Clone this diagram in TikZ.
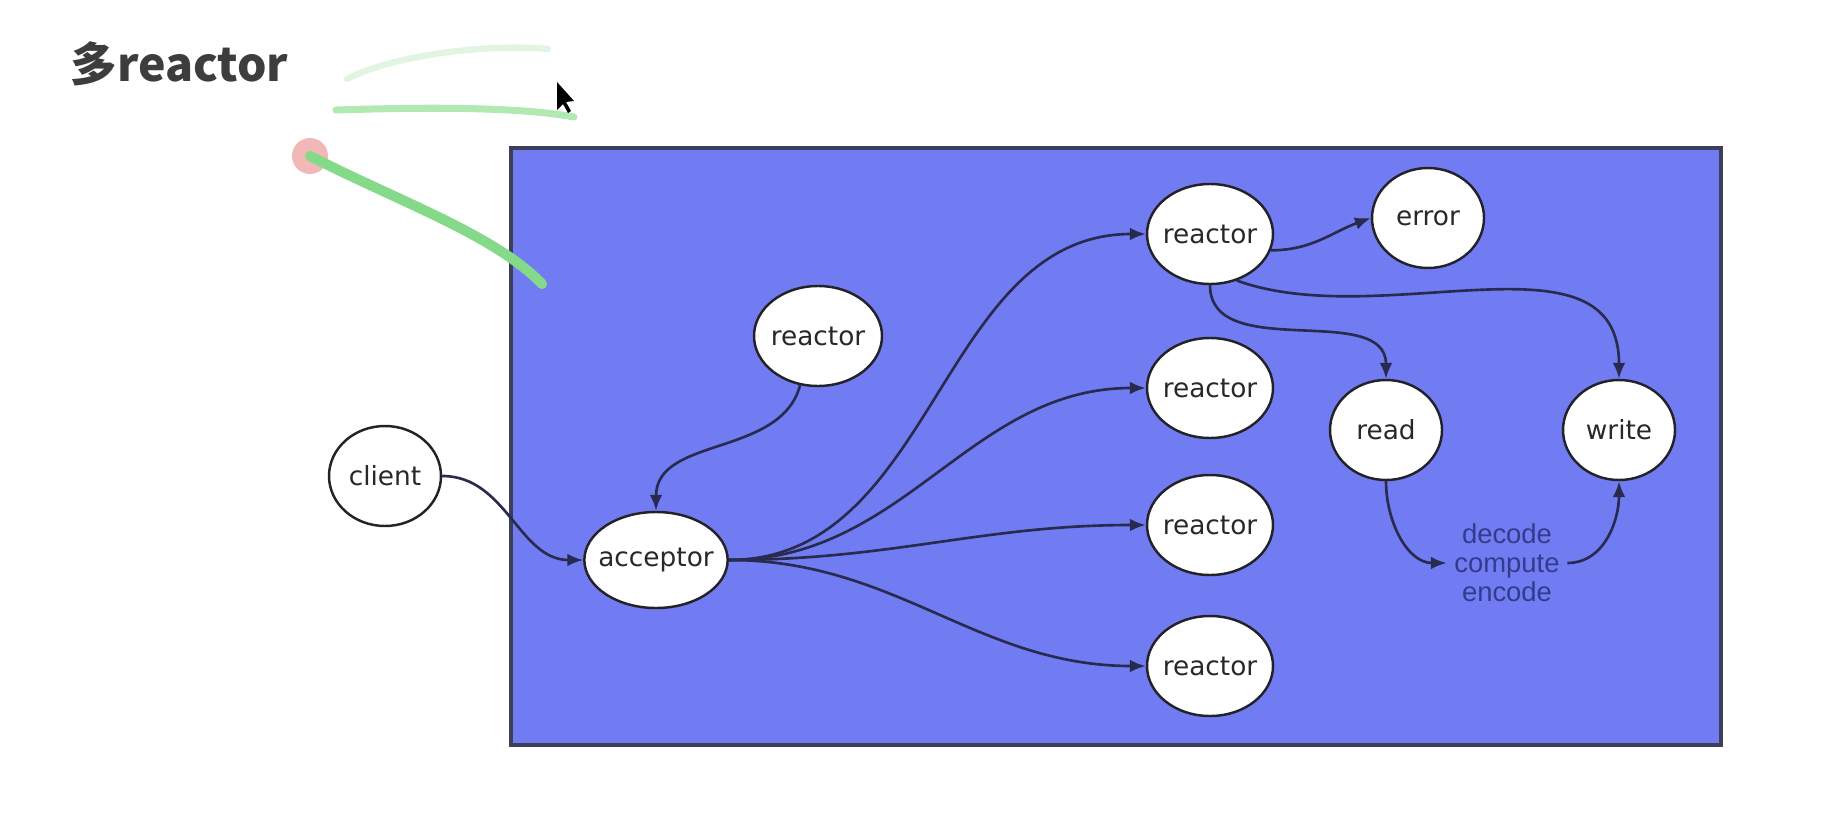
\documentclass[tikz,border=0pt]{standalone}
\usepackage{fontspec}
\usepackage{tikz}
\usetikzlibrary{shapes.geometric,arrows.meta}
\newfontfamily\cjkfont{Noto Sans CJK SC}
\newfontfamily\nodefont{DejaVu Sans}
\newfontfamily\notefont{Liberation Sans}
\definecolor{panel}{RGB}{114,124,242}
\definecolor{panelline}{RGB}{60,62,90}
\definecolor{edgecol}{RGB}{40,42,78}
\definecolor{nodeline}{RGB}{34,34,40}
\definecolor{nodetext}{RGB}{40,40,40}
\definecolor{notetext}{RGB}{50,60,140}
\definecolor{titlegray}{RGB}{61,61,61}
\definecolor{penfaint}{RGB}{226,245,226}
\definecolor{penlight}{RGB}{178,232,178}
\definecolor{pengreen}{RGB}{132,218,136}
\definecolor{pendot}{RGB}{242,184,184}

\begin{document}
\begin{tikzpicture}
	\tikzstyle{vertex}=[ellipse,draw=nodeline,fill=white,line width=0.7pt,inner ysep=0pt,inner xsep=-1pt,minimum width=1.26cm,minimum height=1cm,font=\nodefont\fontsize{7.5}{9}\selectfont,text=nodetext]
	\tikzstyle{flow}=[-{Latex[length=4.5pt,width=3.6pt]},draw=edgecol,line width=0.75pt]
	\useasboundingbox (0,0) rectangle (18.28,-8.20);
	% title and pen marks
	\node[anchor=west,inner sep=0pt,text=titlegray,font=\cjkfont\bfseries\fontsize{13.2}{15}\selectfont](title) at (0.70,-0.64) {多reactor};
	\draw[penfaint,line width=1.8pt,line cap=round] (3.47,-0.79) .. controls (4.0,-0.52) and (5.0,-0.44) .. (5.48,-0.49);
	\draw[penlight,line width=2pt,line cap=round] (3.36,-1.10) .. controls (4.3,-1.07) and (5.2,-1.07) .. (5.74,-1.17);
	\fill[black] (5.57,-0.82) -- (5.57,-1.10) -- (5.63,-1.04) -- (5.68,-1.13) -- (5.71,-1.11) -- (5.66,-1.02) -- (5.74,-1.01) -- cycle;
	\draw[panelline,fill=panel,line width=0.9pt] (5.11,-1.48) rectangle (17.21,-7.45);
	\fill[pendot] (3.10,-1.56) circle (0.18);
	\draw[pengreen,line width=2.9pt,line cap=round] (3.10,-1.56) .. controls (4.0,-2.02) and (4.95,-2.35) .. (5.42,-2.84);
	% nodes
	\node[vertex,minimum width=1.12cm](client) at (3.85,-4.76) {client};
	\node[vertex,inner xsep=-2pt,minimum width=1.42cm,minimum height=0.96cm](acceptor) at (6.56,-5.60) {acceptor};
	\node[vertex,minimum width=1.28cm](main) at (8.18,-3.36) {reactor};
	\node[vertex](sub1) at (12.10,-2.34) {reactor};
	\node[vertex](sub2) at (12.10,-3.88) {reactor};
	\node[vertex](sub3) at (12.10,-5.25) {reactor};
	\node[vertex](sub4) at (12.10,-6.66) {reactor};
	\node[vertex,minimum width=1.12cm](error) at (14.28,-2.18) {error};
	\node[vertex,minimum width=1.12cm](read) at (13.86,-4.30) {read};
	\node[vertex,minimum width=1.12cm](write) at (16.19,-4.30) {write};
	\node[align=center,text=notetext,inner sep=2pt,font=\notefont\fontsize{7.8}{8.3}\selectfont](codec) at (15.07,-5.63) {decode\\compute\\encode};
	% connectors
	\draw[flow](client.east) to[out=0,in=180] (acceptor.west);
	\draw[flow](main.250) to[out=-105,in=90] (acceptor.north);
	\draw[flow](acceptor.east) to[out=0,in=180] (sub1.west);
	\draw[flow](acceptor.east) to[out=0,in=180] (sub2.west);
	\draw[flow](acceptor.east) to[out=0,in=180] (sub3.west);
	\draw[flow](acceptor.east) to[out=0,in=180] (sub4.west);
	\draw[flow](sub1.-15) to[out=0,in=200] (error.west);
	\draw[flow](sub1.south) to[out=-90,in=90] (read.north);
	\draw[flow](sub1.-60) to[out=-20,in=90] (write.north);
	\draw[flow](read.south) to[out=-90,in=180] (codec.west);
	\draw[flow](codec.east) to[out=0,in=-90] (write.south);
\end{tikzpicture}
\end{document}
